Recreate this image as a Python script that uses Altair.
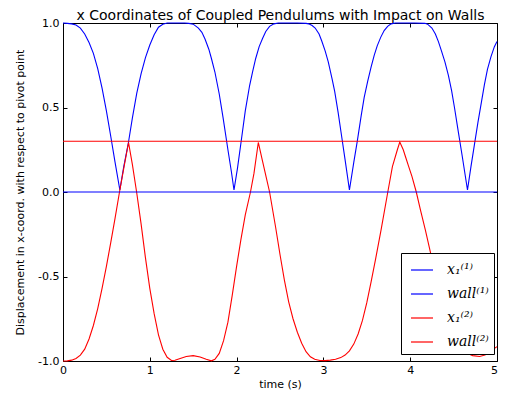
import altair as alt
import pandas as pd

# ---- data ----
LABELS = ["x₁⁽¹⁾", "wall⁽¹⁾", "x₁⁽²⁾", "wall⁽²⁾"]
COLORS = ["#0000ff", "#0000ff", "#ff0000", "#ff0000"]
TITLE = "x Coordinates of Coupled Pendulums with Impact on Walls"

T1 = [0.00, 0.05, 0.10, 0.15, 0.20, 0.25, 0.30, 0.35, 0.40, 0.45, 0.50, 0.55, 0.60, 0.655,
      0.70, 0.753, 0.80, 0.85, 0.90, 0.95, 1.00, 1.05, 1.10, 1.15, 1.20, 1.30, 1.40, 1.45,
      1.50, 1.56, 1.60, 1.636, 1.68, 1.71, 1.75, 1.80, 1.844, 1.90, 1.94, 1.97,
      2.01, 2.05, 2.10, 2.15, 2.186, 2.22, 2.26, 2.30, 2.336, 2.38, 2.43, 2.48, 2.60, 2.70, 2.80,
      2.83, 2.87, 2.905, 2.95, 2.98, 3.02, 3.056, 3.10, 3.13, 3.17, 3.21, 3.25, 3.30,
      3.35, 3.39, 3.435, 3.47, 3.51, 3.55, 3.586, 3.62, 3.66, 3.70, 3.74, 3.78, 3.83, 3.95, 4.05, 4.17,
      4.20, 4.25, 4.29, 4.325, 4.36, 4.40, 4.44, 4.477, 4.51, 4.553, 4.60, 4.66,
      4.70, 4.74, 4.78, 4.82, 4.855, 4.89, 4.93, 4.97, 5.00]
X1 = [1.000, 0.998, 0.995, 0.988, 0.970, 0.935, 0.885, 0.820, 0.730, 0.615, 0.480, 0.330, 0.175, 0.012,
      0.150, 0.290, 0.440, 0.585, 0.700, 0.795, 0.870, 0.930, 0.975, 0.993, 1.000, 1.000, 1.000, 0.998,
      0.993, 0.970, 0.945, 0.905, 0.845, 0.790, 0.710, 0.580, 0.440, 0.250, 0.120, 0.012,
      0.140, 0.290, 0.480, 0.630, 0.715, 0.790, 0.860, 0.910, 0.950, 0.980, 0.995, 1.000, 1.000, 1.000, 0.998,
      0.995, 0.985, 0.970, 0.935, 0.895, 0.835, 0.770, 0.670, 0.595, 0.470, 0.330, 0.190, 0.012,
      0.175, 0.300, 0.450, 0.560, 0.655, 0.740, 0.810, 0.865, 0.915, 0.955, 0.980, 0.995, 1.000, 1.000, 1.000, 0.998,
      0.993, 0.970, 0.935, 0.890, 0.835, 0.770, 0.690, 0.600, 0.500, 0.360, 0.210, 0.012,
      0.150, 0.280, 0.410, 0.530, 0.635, 0.725, 0.800, 0.860, 0.890]

T2 = [0.00, 0.05, 0.10, 0.15, 0.20, 0.25, 0.30, 0.35, 0.40, 0.45, 0.50, 0.55, 0.60, 0.651,
      0.70, 0.755, 0.80, 0.848, 0.90, 0.95, 1.00, 1.05, 1.10, 1.15, 1.20, 1.25, 1.29,
      1.35, 1.42, 1.50, 1.58, 1.65, 1.71, 1.75, 1.80, 1.85, 1.90, 1.95, 2.00, 2.05, 2.10,
      2.16, 2.20, 2.25, 2.30, 2.34, 2.38, 2.45, 2.50, 2.55, 2.60, 2.65, 2.70, 2.75, 2.80,
      2.85, 2.90, 2.96, 3.02, 3.08, 3.14, 3.20, 3.25, 3.30, 3.35, 3.40, 3.45, 3.50, 3.55,
      3.60, 3.665, 3.742, 3.795, 3.852, 3.88, 3.92, 3.945, 3.98, 4.02, 4.07, 4.12, 4.175,
      4.23, 4.30, 4.40, 4.50, 4.58, 4.65, 4.72, 4.80, 4.86, 4.91, 4.96, 5.00]
X2 = [-1.000, -0.999, -0.995, -0.985, -0.965, -0.930, -0.870, -0.790, -0.690, -0.570, -0.440, -0.300, -0.155, 0.000,
      0.140, 0.293, 0.160, 0.000, -0.190, -0.390, -0.570, -0.720, -0.845, -0.930, -0.978, -0.997, -0.996,
      -0.985, -0.973, -0.968, -0.976, -0.990, -0.999, -0.990, -0.955, -0.880, -0.770, -0.610, -0.440, -0.280, -0.135,
      0.000, 0.110, 0.293, 0.180, 0.090, 0.000, -0.210, -0.370, -0.520, -0.650, -0.750, -0.830, -0.895, -0.945,
      -0.975, -0.990, -0.997, -0.998, -0.995, -0.990, -0.980, -0.965, -0.940, -0.900, -0.840, -0.760, -0.655, -0.530,
      -0.400, -0.223, 0.000, 0.150, 0.250, 0.296, 0.250, 0.210, 0.155, 0.092, 0.000, -0.110, -0.225,
      -0.350, -0.520, -0.730, -0.870, -0.930, -0.953, -0.968, -0.973, -0.965, -0.953, -0.930, -0.915]

T_SPAN = [0.0, 5.0]
WALL1 = 0.0
WALL2 = 0.3

X_TICKS = [0, 1, 2, 3, 4, 5]
Y_TICKS = [-1.0, -0.5, 0.0, 0.5, 1.0]

# ---- tables ----
curves = pd.concat([
    pd.DataFrame({"t": T1, "value": X1, "series": LABELS[0]}),
    pd.DataFrame({"t": T2, "value": X2, "series": LABELS[2]}),
], ignore_index=True)
walls = pd.concat([
    pd.DataFrame({"t": T_SPAN, "value": [WALL1, WALL1], "series": LABELS[1]}),
    pd.DataFrame({"t": T_SPAN, "value": [WALL2, WALL2], "series": LABELS[3]}),
], ignore_index=True)

W, H = 434, 338
xscale = alt.Scale(domain=[0, 5], nice=False, zero=False)
yscale = alt.Scale(domain=[-1, 1], nice=False, zero=False)
color = alt.Color("series:N", scale=alt.Scale(domain=LABELS, range=COLORS),
                  legend=alt.Legend(title=None))

tick_common = dict(domain=False, grid=False, ticks=True, tickSize=4, tickWidth=1,
                   tickColor="black", offset=-4, labelFlush=False, labelOverlap=False)

x_bottom = alt.Axis(orient="bottom", values=X_TICKS, format="d", labelPadding=3,
                    labelOffset={"condition": {"test": "datum.value === 5", "value": -3}, "value": 0},
                    labelFont="DejaVu Sans", labelFontSize=11, labelColor="black",
                    title="time (s)", titleFont="DejaVu Sans", titleFontSize=11,
                    titleFontWeight="normal", titleColor="black",
                    titleX=W / 2, titleY=30, titleAlign="center", titleBaseline="alphabetic",
                    **tick_common)
y_left = alt.Axis(orient="left", values=Y_TICKS,
                  labelExpr="replace(format(datum.value, '.1f'), '\u2212', '-')",
                  labelPadding=4, labelFont="DejaVu Sans", labelFontSize=11, labelColor="black",
                  title="Displacement in x-coord. with respect to pivot point",
                  titleFont="DejaVu Sans", titleFontSize=11, titleFontWeight="normal",
                  titleColor="black", titleX=-47, titleY=H / 2, titleAngle=270,
                  titleAlign="center", titleBaseline="middle",
                  **tick_common)
x_top = alt.Axis(orient="top", values=X_TICKS, labels=False,
                 title=TITLE, titleFont="DejaVu Sans", titleFontSize=14,
                 titleFontWeight="normal", titleColor="black",
                 titleX=W / 2, titleY=-8, titleAlign="center", titleBaseline="alphabetic",
                 **tick_common)
y_right = alt.Axis(orient="right", values=Y_TICKS, labels=False, title=None, **tick_common)

lines = alt.Chart(curves).mark_line(strokeWidth=1.1).encode(
    x=alt.X("t:Q", scale=xscale, axis=x_bottom),
    y=alt.Y("value:Q", scale=yscale, axis=y_left),
    color=color,
)
wall_lines = alt.Chart(walls).mark_line(strokeWidth=1.1).encode(
    x=alt.X("t:Q", scale=xscale, axis=x_top),
    y=alt.Y("value:Q", scale=yscale, axis=y_right),
    color=color,
)

chart = alt.layer(lines, wall_lines).resolve_axis(
    x="independent", y="independent"
).properties(
    width=W, height=H,
    autosize=alt.AutoSizeParams(type="none"),
    padding={"left": 55, "top": 15, "right": 1, "bottom": 29},
    background="white",
).configure_view(
    stroke="black", strokeWidth=1
).configure_legend(
    orient="none", legendX=338, legendY=230,
    fillColor="white", strokeColor="black", strokeWidth=1, cornerRadius=0,
    padding=5, symbolType="stroke", symbolSize=484, symbolStrokeWidth=1.2,
    symbolOffset=4,
    labelFont="DejaVu Serif", labelFontStyle="italic", labelFontSize=14,
    labelColor="black", labelOffset=13, rowPadding=5,
)

chart.save("out.html", embed_options={"renderer": "svg", "actions": False})
